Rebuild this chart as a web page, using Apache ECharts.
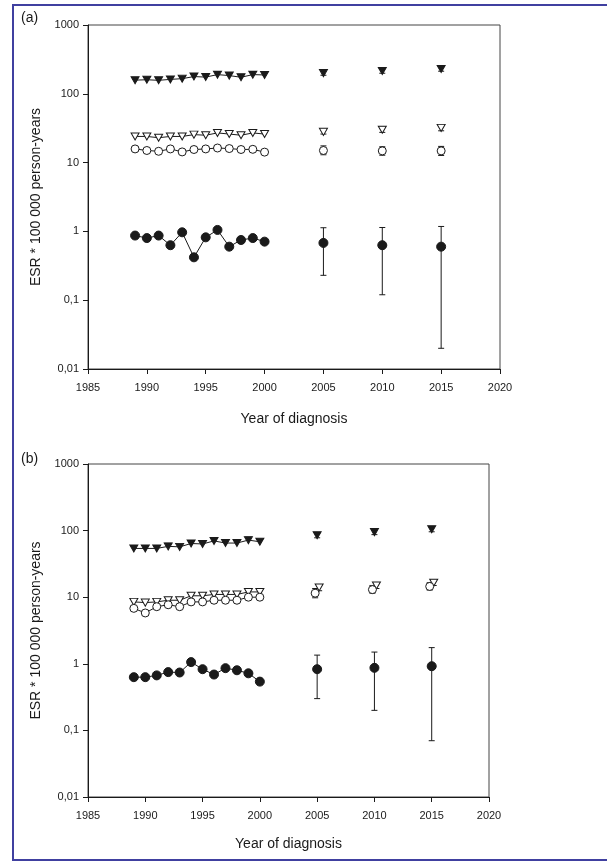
<!DOCTYPE html>
<html><head><meta charset="utf-8">
<script src="https://cdn.jsdelivr.net/npm/echarts@6/dist/echarts.min.js"></script>
<style>html,body{margin:0;padding:0;background:#fff}#c{width:607px;height:863px}</style>
</head><body><div id="c"></div>
<script>
const years = [1989,1990,1991,1992,1993,1994,1995,1996,1997,1998,1999,2000];
const projYears = [2005,2010,2015];
const xTicks = [1985,1990,1995,2000,2005,2010,2015,2020];
const yTicks = [0.01,0.1,1,10,100,1000];

// Panel (a)
const aTriFilled = [158,160,157,162,166,178,175,190,184,174,190,188];
const aTriFilledProj = [200,215,230];
const aTriFilledLo = [186,199,213];
const aTriFilledHi = [214,232,248];
const aTriOpen = [24,24,23,24,24,25.5,25,27,26,25,27,26];
const aTriOpenProj = [28,30,32];
const aTriOpenLo = [26,27.5,29];
const aTriOpenHi = [30,33,35.5];
const aCircOpen = [15.8,15,14.6,15.8,14.3,15.5,15.8,16.3,16,15.5,15.6,14.2];
const aCircOpenProj = [15,14.8,14.8];
const aCircOpenLo = [13,12.8,12.7];
const aCircOpenHi = [17.5,17,17.2];
const aCircFilled = [0.87,0.80,0.87,0.63,0.97,0.42,0.82,1.05,0.60,0.75,0.80,0.71];
const aCircFilledProj = [0.68,0.63,0.60];
const aCircFilledLo = [0.23,0.12,0.02];
const aCircFilledHi = [1.13,1.14,1.18];

// Panel (b)
const bTriFilled = [54,54,54,58,57,64,63,70,65,65,72,68];
const bTriFilledProj = [85,95,105];
const bTriFilledLo = [78,87,96];
const bTriFilledHi = [92,104,115];
const bTriOpen = [8.5,8.3,8.5,9,9,10.5,10.5,11,11,11,12,12];
const bTriOpenProj = [14,15,16.5];
const bTriOpenLo = [12.5,13.5,15];
const bTriOpenHi = [15.5,16.5,18];
const bCircOpen = [6.8,5.8,7.2,7.7,7.2,8.5,8.5,9,9,9,10,10];
const bCircOpenProj = [11.5,13,14.5];
const bCircOpenLo = [9.8,11.5,12.8];
const bCircOpenHi = [13.5,15,16.5];
const bCircFilled = [0.63,0.63,0.67,0.75,0.74,1.06,0.83,0.69,0.86,0.80,0.72,0.54];
const bCircFilledProj = [0.83,0.87,0.92];
const bCircFilledLo = [0.30,0.20,0.07];
const bCircFilledHi = [1.35,1.5,1.75];

const FONT = 'Liberation Sans, Arial, sans-serif';
const INK = '#1a1a1a';

function pairs(xs, ys){ return xs.map((x,i)=>[x, ys[i]]); }
function bars(xs, lo, hi){ return xs.map((x,i)=>[x, lo[i], hi[i]]); }

function fmtY(v){ const n = Number(Number(v).toPrecision(3)); return String(n).replace('.', ','); }
function fmtX(v){ return String(Math.round(v)); }

function errSeries(idx, data, dx){
  return {
    type:'custom', xAxisIndex:idx, yAxisIndex:idx, z:2, silent:true,
    renderItem:function(params, api){
      const x = api.value(0);
      const top = api.coord([x, api.value(2)]);
      const bot = api.coord([x, api.value(1)]);
      const cx = top[0] + (dx||0);
      const w = 3;
      const st = {stroke:INK, lineWidth:1};
      return {type:'group', children:[
        {type:'line', shape:{x1:cx,y1:top[1],x2:cx,y2:bot[1]}, style:st},
        {type:'line', shape:{x1:cx-w,y1:top[1],x2:cx+w,y2:top[1]}, style:st},
        {type:'line', shape:{x1:cx-w,y1:bot[1],x2:cx+w,y2:bot[1]}, style:st}
      ]};
    },
    data:data
  };
}

const TRI = 'path://M0,0 L10,0 L5,9 Z';
function marker(kind){
  if(kind==='triF') return {symbol:TRI, size:[8,7], style:{color:INK, borderColor:INK, borderWidth:1, opacity:1}};
  if(kind==='triO') return {symbol:TRI, size:[8,7], style:{color:'#fff', borderColor:INK, borderWidth:1, opacity:1}};
  if(kind==='cirO') return {symbol:'circle', size:8, style:{color:'#fff', borderColor:INK, borderWidth:1, opacity:1}};
  return {symbol:'circle', size:9, style:{color:INK, borderColor:INK, borderWidth:1, opacity:1}};
}
function lineSeries(idx, kind, ys){
  const m = marker(kind);
  return {type:'line', xAxisIndex:idx, yAxisIndex:idx, z:3, data:pairs(years, ys),
    symbol:m.symbol, symbolSize:m.size, showAllSymbol:true, itemStyle:m.style,
    lineStyle:{color:INK, width:1}, animation:false, silent:true};
}
function projSeries(idx, kind, ys, dx){
  const m = marker(kind);
  return {type:'scatter', xAxisIndex:idx, yAxisIndex:idx, z:4, data:pairs(projYears, ys),
    symbol:m.symbol, symbolSize:m.size, symbolOffset:[dx||0,0], itemStyle:m.style, silent:true};
}

const grids = [
  {left:88, top:25, width:412, height:344},
  {left:88, top:464, width:401, height:333}
];
const xNameGaps = [43, 40];

function xAxis(idx){
  return {type:'value', gridIndex:idx, min:1985, max:2020, interval:5,
    name:'Year of diagnosis', nameLocation:'middle', nameGap:xNameGaps[idx],
    nameTextStyle:{fontFamily:FONT, fontSize:14, color:INK},
    axisLine:{show:true, lineStyle:{color:INK, width:1}},
    axisTick:{show:true, length:5, inside:false, lineStyle:{color:INK}},
    axisLabel:{fontFamily:FONT, fontSize:11, color:INK, margin:13, formatter:fmtX},
    splitLine:{show:false}};
}
function yAxis(idx){
  return {type:'log', gridIndex:idx, logBase:10, min:0.01, max:1000,
    name:'ESR * 100 000 person-years', nameLocation:'middle', nameGap:44,
    nameTextStyle:{fontFamily:FONT, fontSize:14, color:INK},
    axisLine:{show:true, lineStyle:{color:INK, width:1}},
    axisTick:{show:true, length:5, lineStyle:{color:INK}, customValues:yTicks},
    axisLabel:{fontFamily:FONT, fontSize:11, color:INK, margin:9, formatter:fmtY, customValues:yTicks},
    minorTick:{show:false}, splitLine:{show:false}};
}

const chart = echarts.init(document.getElementById('c'), null, {renderer:'canvas'});
chart.setOption({
  backgroundColor:'#fff',
  animation:false,
  grid:grids.map(g=>Object.assign({show:true, borderColor:'#444', borderWidth:1, backgroundColor:'transparent'}, g)),
  xAxis:[xAxis(0), xAxis(1)],
  yAxis:[yAxis(0), yAxis(1)],
  graphic:[
    {type:'rect', shape:{x:13, y:5, width:620, height:855}, style:{fill:'none', stroke:'#4040a0', lineWidth:2}, z:0},
    {type:'text', left:21, top:11, style:{text:'(a)', font:'14px '+FONT, fill:INK}},
    {type:'text', left:21, top:452, style:{text:'(b)', font:'14px '+FONT, fill:INK}}
  ],
  series:[
    errSeries(0, bars(projYears, aTriFilledLo, aTriFilledHi)),
    errSeries(0, bars(projYears, aTriOpenLo, aTriOpenHi)),
    errSeries(0, bars(projYears, aCircOpenLo, aCircOpenHi)),
    errSeries(0, bars(projYears, aCircFilledLo, aCircFilledHi)),
    lineSeries(0, 'triF', aTriFilled),
    lineSeries(0, 'triO', aTriOpen),
    lineSeries(0, 'cirO', aCircOpen),
    lineSeries(0, 'cirF', aCircFilled),
    projSeries(0, 'triF', aTriFilledProj),
    projSeries(0, 'triO', aTriOpenProj),
    projSeries(0, 'cirO', aCircOpenProj),
    projSeries(0, 'cirF', aCircFilledProj),
    errSeries(1, bars(projYears, bTriFilledLo, bTriFilledHi)),
    errSeries(1, bars(projYears, bTriOpenLo, bTriOpenHi), 2),
    errSeries(1, bars(projYears, bCircOpenLo, bCircOpenHi), -2),
    errSeries(1, bars(projYears, bCircFilledLo, bCircFilledHi)),
    lineSeries(1, 'triF', bTriFilled),
    lineSeries(1, 'triO', bTriOpen),
    lineSeries(1, 'cirO', bCircOpen),
    lineSeries(1, 'cirF', bCircFilled),
    projSeries(1, 'triF', bTriFilledProj),
    projSeries(1, 'triO', bTriOpenProj, 2),
    projSeries(1, 'cirO', bCircOpenProj, -2),
    projSeries(1, 'cirF', bCircFilledProj)
  ]
});
</script></body></html>
